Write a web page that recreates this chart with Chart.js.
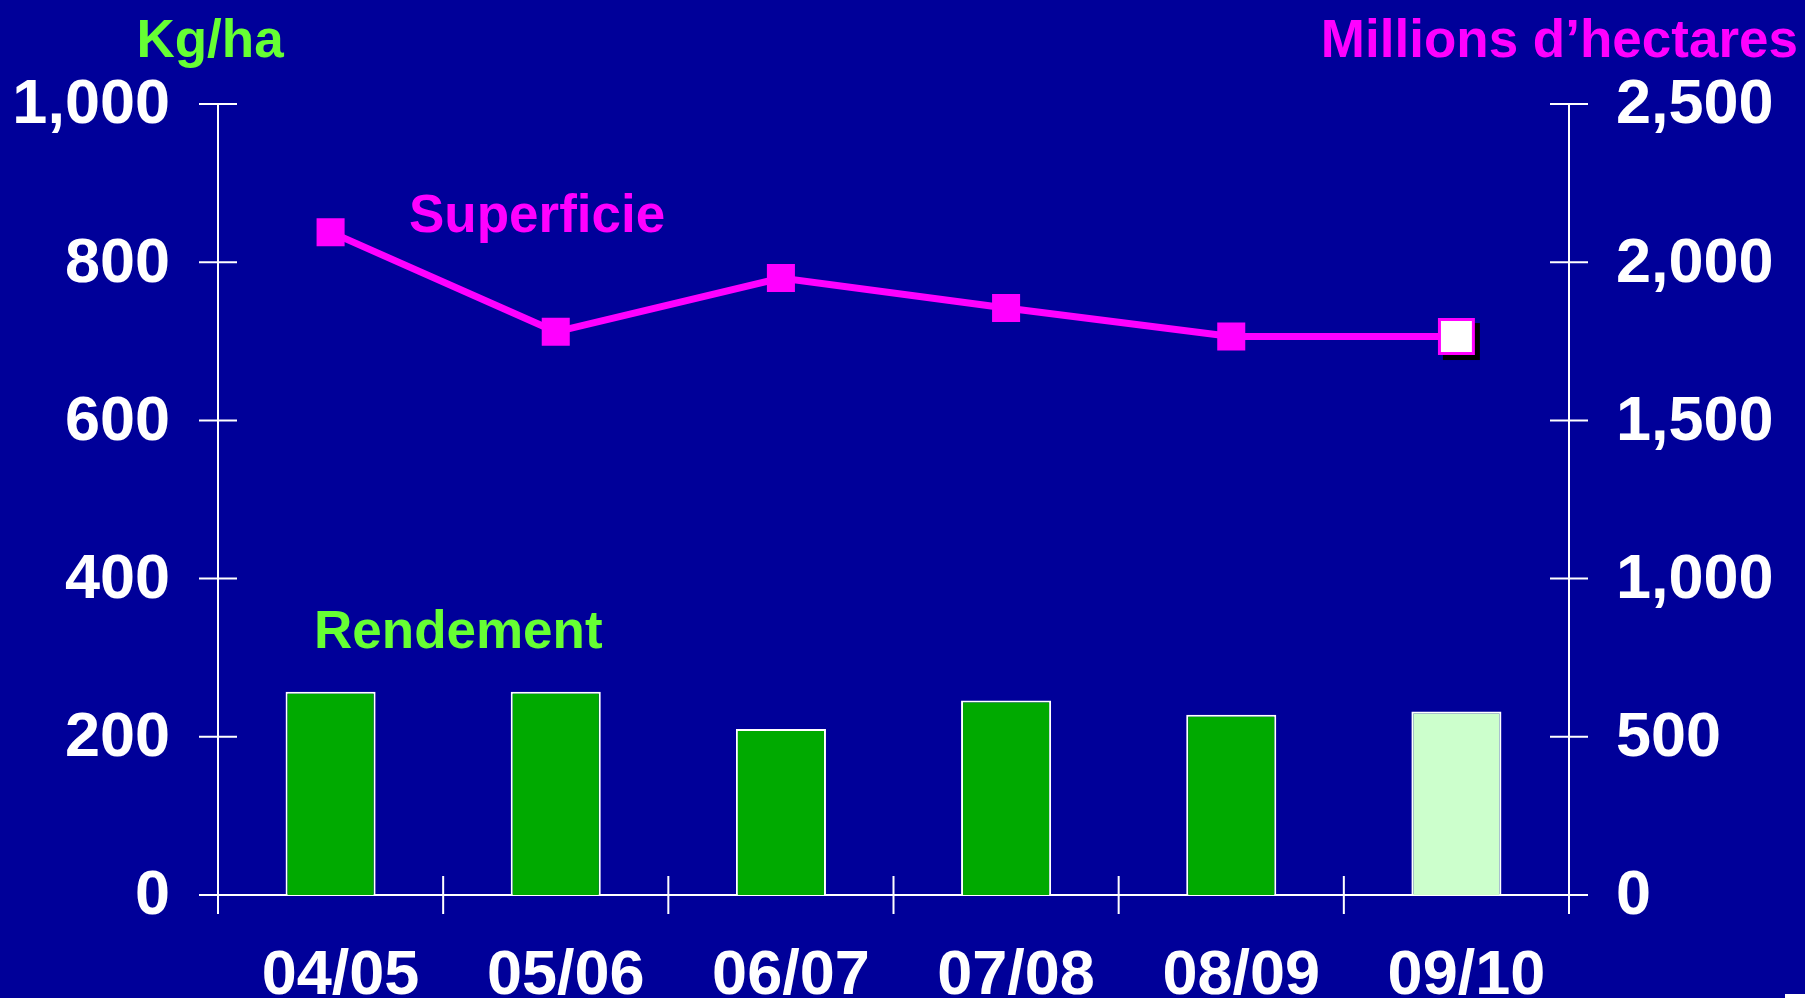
<!DOCTYPE html>
<html>
<head>
<meta charset="utf-8">
<script src="https://cdn.jsdelivr.net/npm/chart.js@4/dist/chart.umd.min.js"></script>
<style>
  html, body { margin: 0; padding: 0; background: #000099; overflow: hidden; }
  #wrap { position: relative; width: 1805px; height: 998px; }
  canvas { display: block; }
  #corner { position: absolute; left: 1785px; top: 994px; width: 20px; height: 4px; background: #ffffff; }
</style>
</head>
<body>
<div id="wrap">
  <canvas id="c" width="1805" height="998"></canvas>
  <div id="corner"></div>
</div>
<script>
// ---- data ----
const categories = ['04/05', '05/06', '06/07', '07/08', '08/09', '09/10'];
const rendement = [257, 257, 210, 246, 228, 232];          // Kg/ha (left axis)
const superficie = [2095, 1780, 1950, 1855, 1765, 1765];   // Millions d'hectares (right axis)
const leftTicks = [0, 200, 400, 600, 800, 1000];
const rightTicks = [0, 500, 1000, 1500, 2000, 2500];
const leftTitle = 'Kg/ha';
const rightTitle = 'Millions d’hectares';
const lineLabel = 'Superficie';
const barLabel = 'Rendement';

const FONT = '"Liberation Sans", Arial, Helvetica, sans-serif';
const WHITE = '#ffffff';
const MAGENTA = '#ff00ff';
const GREEN = '#00aa00';
const LIGHTGREEN = '#ccffcc';
const TEXTGREEN = '#66ff33';

const n = categories.length;
const barColors = categories.map((_, i) => i === n - 1 ? LIGHTGREEN : GREEN);
const pointFill = categories.map((_, i) => i === n - 1 ? WHITE : MAGENTA);
const pointRad = categories.map((_, i) => i === n - 1 ? 24 : 18.4);
const pointBW = categories.map((_, i) => i === n - 1 ? 3 : 2);

const axesPlugin = {
  id: 'axesPlugin',
  beforeDatasetsDraw(chart) {
    const ctx = chart.ctx;
    const x = chart.scales.x, y = chart.scales.y, y1 = chart.scales.y1;
    const L = chart.chartArea.left, R = chart.chartArea.right;
    const y0 = y.getPixelForValue(0);
    const yTop = y.getPixelForValue(1000);
    const T = 19;
    ctx.save();
    ctx.strokeStyle = WHITE;
    ctx.lineWidth = 2;
    ctx.beginPath();
    ctx.moveTo(L, yTop); ctx.lineTo(L, y0 + T);
    ctx.moveTo(R, yTop); ctx.lineTo(R, y0 + T);
    ctx.moveTo(L - T, y0); ctx.lineTo(R + T, y0);
    leftTicks.forEach(v => { const p = y.getPixelForValue(v); ctx.moveTo(L - T, p); ctx.lineTo(L + T, p); });
    rightTicks.forEach(v => { const p = y1.getPixelForValue(v); ctx.moveTo(R - T, p); ctx.lineTo(R + T, p); });
    for (let i = 1; i < n; i++) {
      const p = (x.getPixelForValue(i - 1) + x.getPixelForValue(i)) / 2;
      ctx.moveTo(p, y0 - T); ctx.lineTo(p, y0 + T);
    }
    ctx.stroke();
    const meta = chart.getDatasetMeta(0);
    const last = meta.data[n - 1];
    if (last) {
      const half = pointRad[n - 1] * Math.SQRT1_2 + pointBW[n - 1] / 2;
      ctx.fillStyle = '#000000';
      ctx.fillRect(last.x - half + 5, last.y - half + 5, half * 2, half * 2);
    }
    ctx.restore();
  },
  afterDraw(chart) {
    const ctx = chart.ctx;
    ctx.save();
    ctx.font = 'bold 53px ' + FONT;
    ctx.textBaseline = 'alphabetic';
    ctx.fillStyle = TEXTGREEN;
    ctx.textAlign = 'center';
    ctx.fillText(leftTitle, 210, 57);
    ctx.fillStyle = MAGENTA;
    ctx.textAlign = 'right';
    ctx.fillText(rightTitle, 1798, 57);
    ctx.textAlign = 'left';
    ctx.fillText(lineLabel, 409, 232);
    ctx.fillStyle = TEXTGREEN;
    ctx.fillText(barLabel, 314, 648);
    ctx.restore();
  }
};

new Chart(document.getElementById('c'), {
  data: {
    labels: categories,
    datasets: [
      {
        type: 'line',
        label: lineLabel,
        data: superficie,
        yAxisID: 'y1',
        borderColor: MAGENTA,
        borderWidth: 7,
        tension: 0,
        pointStyle: 'rect',
        pointRadius: pointRad,
        pointHoverRadius: pointRad,
        pointBackgroundColor: pointFill,
        pointBorderColor: MAGENTA,
        pointBorderWidth: pointBW
      },
      {
        type: 'bar',
        label: barLabel,
        data: rendement,
        yAxisID: 'y',
        backgroundColor: barColors,
        borderColor: WHITE,
        borderWidth: 2,
        categoryPercentage: 1.0,
        barPercentage: 0.4
      }
    ]
  },
  options: {
    responsive: false,
    animation: false,
    devicePixelRatio: 1,
    locale: 'en-US',
    layout: { padding: { top: 104, left: 0, right: 0, bottom: 0 } },
    plugins: { legend: { display: false }, tooltip: { enabled: false } },
    scales: {
      x: {
        type: 'category',
        grid: { display: false },
        border: { display: false },
        ticks: { color: WHITE, font: { family: FONT, size: 63, weight: 'bold' }, padding: 36, maxRotation: 0, labelOffset: 10 },
        afterFit(s) { s.height = 103; }
      },
      y: {
        position: 'left',
        min: 0, max: 1000,
        grid: { display: false },
        border: { display: false },
        afterBuildTicks(s) { s.ticks = leftTicks.map(v => ({ value: v })); },
        ticks: { color: WHITE, font: { family: FONT, size: 63, weight: 'bold' }, padding: 40, labelOffset: 2,
                 callback: v => v.toLocaleString('en-US') },
        afterFit(s) { s.width = 218; }
      },
      y1: {
        position: 'right',
        min: 0, max: 2500,
        grid: { display: false },
        border: { display: false },
        afterBuildTicks(s) { s.ticks = rightTicks.map(v => ({ value: v })); },
        ticks: { color: WHITE, font: { family: FONT, size: 63, weight: 'bold' }, padding: 39, labelOffset: 2,
                 callback: v => v.toLocaleString('en-US') },
        afterFit(s) { s.width = 236; }
      }
    }
  },
  plugins: [axesPlugin]
});
</script>
</body>
</html>
